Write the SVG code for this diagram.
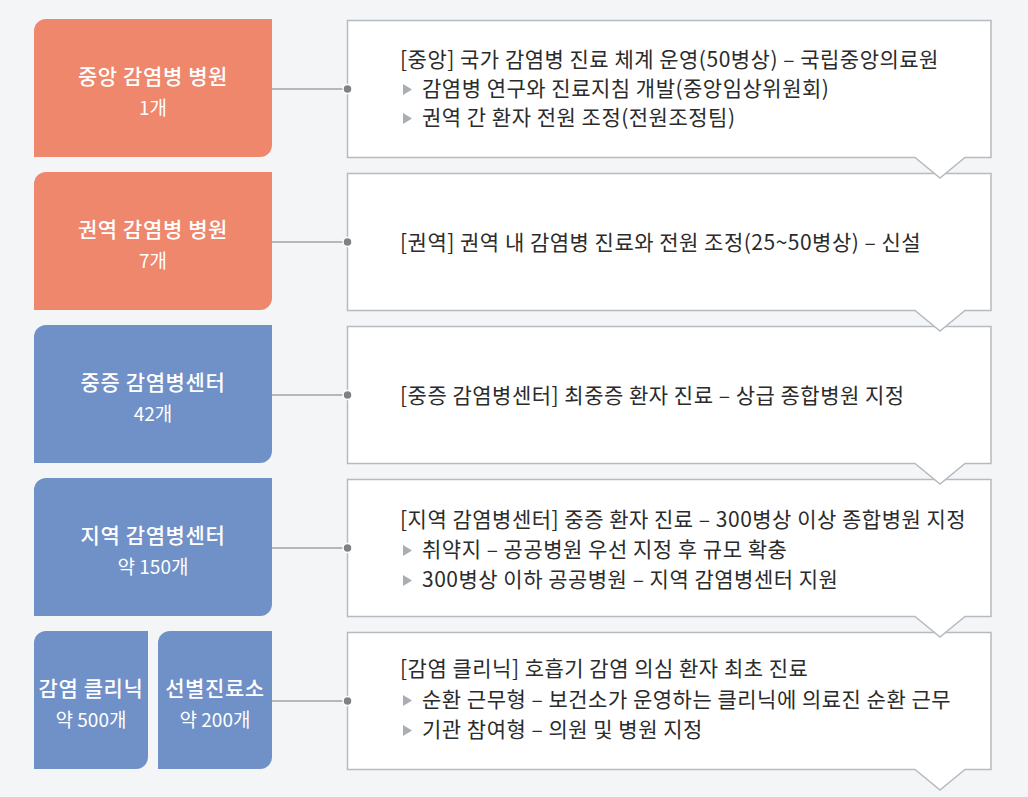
<svg xmlns="http://www.w3.org/2000/svg" width="1028" height="797" viewBox="0 0 1028 797">
<style>
.bg{fill:#F4F5F7}
.org{fill:#EE876B}
.blu{fill:#7090C8}
.call{fill:#FFFFFF;stroke:#B5BBC1;stroke-width:1.5}
.t1{font-family:"Noto Sans CJK KR","Noto Sans",sans-serif;font-size:21px;font-weight:500;letter-spacing:0.6px;fill:#FFFFFF;text-anchor:middle}
.t2{font-family:"Noto Sans CJK KR","Noto Sans",sans-serif;font-size:19px;font-weight:400;fill:#FFFFFF;text-anchor:middle}
.tx{font-family:"Noto Sans CJK KR","Noto Sans",sans-serif;font-size:21px;font-weight:400;letter-spacing:0.5px;fill:#2B2B2B}
.bul{fill:#A9AEB5}
.ln{stroke:#9EA3A8;stroke-width:1.5;fill:none}
.dot{fill:#7D8287;stroke:#FFFFFF;stroke-width:1.5}
</style>
<defs>
<path id="tri" d="M0,0 L9,5.5 L0,11 Z"/>
</defs>
<rect class="bg" x="0" y="0" width="1028" height="797"/>

<g id="callouts">
<g id="callout5">
<path class="call" d="M347.5,632.5 H991 V769.5 H965 L940,790 L915,769.5 H347.5 Z"/>
<text class="tx" x="400" y="676">[감염 클리닉] 호흡기 감염 의심 환자 최초 진료</text>
<use href="#tri" class="bul" x="403" y="695"/>
<text class="tx" x="422" y="707">순환 근무형 – 보건소가 운영하는 클리닉에 의료진 순환 근무</text>
<use href="#tri" class="bul" x="403" y="725"/>
<text class="tx" x="422" y="737">기관 참여형 – 의원 및 병원 지정</text>
</g>
<g id="callout4">
<path class="call" d="M347.5,479.5 H991 V616.5 H965 L940,637 L915,616.5 H347.5 Z"/>
<text class="tx" x="400" y="527">[지역 감염병센터] 중증 환자 진료 – 300병상 이상 종합병원 지정</text>
<use href="#tri" class="bul" x="403" y="545"/>
<text class="tx" x="422" y="557">취약지 – 공공병원 우선 지정 후 규모 확충</text>
<use href="#tri" class="bul" x="403" y="575"/>
<text class="tx" x="422" y="587">300병상 이하 공공병원 – 지역 감염병센터 지원</text>
</g>
<g id="callout3">
<path class="call" d="M347.5,326.5 H991 V463.5 H965 L940,484 L915,463.5 H347.5 Z"/>
<text class="tx" x="400" y="403">[중증 감염병센터] 최중증 환자 진료 – 상급 종합병원 지정</text>
</g>
<g id="callout2">
<path class="call" d="M347.5,173.5 H991 V310.5 H965 L940,331 L915,310.5 H347.5 Z"/>
<text class="tx" x="400" y="250">[권역] 권역 내 감염병 진료와 전원 조정(25~50병상) – 신설</text>
</g>
<g id="callout1">
<path class="call" d="M347.5,20.5 H991 V157.5 H965 L940,178 L915,157.5 H347.5 Z"/>
<text class="tx" x="400" y="67">[중앙] 국가 감염병 진료 체계 운영(50병상) – 국립중앙의료원</text>
<use href="#tri" class="bul" x="403" y="84"/>
<text class="tx" x="422" y="96">감염병 연구와 진료지침 개발(중앙임상위원회)</text>
<use href="#tri" class="bul" x="403" y="113"/>
<text class="tx" x="422" y="125">권역 간 환자 전원 조정(전원조정팀)</text>
</g>
</g>

<g id="connectors">
<line class="ln" x1="272" y1="89" x2="347" y2="89"/>
<line class="ln" x1="272" y1="242" x2="347" y2="242"/>
<line class="ln" x1="272" y1="395" x2="347" y2="395"/>
<line class="ln" x1="272" y1="548" x2="347" y2="548"/>
<line class="ln" x1="272" y1="701" x2="347" y2="701"/>
<circle class="dot" cx="347.5" cy="89" r="4.5"/>
<circle class="dot" cx="347.5" cy="242" r="4.5"/>
<circle class="dot" cx="347.5" cy="395" r="4.5"/>
<circle class="dot" cx="347.5" cy="548" r="4.5"/>
<circle class="dot" cx="347.5" cy="701" r="4.5"/>
</g>

<g id="node1">
<path class="org" d="M46,19 H272 V145 A12,12 0 0 1 260,157 H34 V31 A12,12 0 0 1 46,19 Z"/>
<text class="t1" x="153" y="84">중앙 감염병 병원</text>
<text class="t2" x="153" y="115">1개</text>
</g>
<g id="node2">
<path class="org" d="M46,172 H272 V298 A12,12 0 0 1 260,310 H34 V184 A12,12 0 0 1 46,172 Z"/>
<text class="t1" x="153" y="237">권역 감염병 병원</text>
<text class="t2" x="153" y="268">7개</text>
</g>
<g id="node3">
<path class="blu" d="M46,325 H272 V451 A12,12 0 0 1 260,463 H34 V337 A12,12 0 0 1 46,325 Z"/>
<text class="t1" x="153" y="390">중증 감염병센터</text>
<text class="t2" x="153" y="421">42개</text>
</g>
<g id="node4">
<path class="blu" d="M46,478 H272 V604 A12,12 0 0 1 260,616 H34 V490 A12,12 0 0 1 46,478 Z"/>
<text class="t1" x="153" y="543">지역 감염병센터</text>
<text class="t2" x="153" y="574">약 150개</text>
</g>
<g id="node5a">
<path class="blu" d="M46,631 H148 V757 A12,12 0 0 1 136,769 H34 V643 A12,12 0 0 1 46,631 Z"/>
<text class="t1" x="91" y="696">감염 클리닉</text>
<text class="t2" x="91" y="727">약 500개</text>
</g>
<g id="node5b">
<path class="blu" d="M170,631 H272 V757 A12,12 0 0 1 260,769 H158 V643 A12,12 0 0 1 170,631 Z"/>
<text class="t1" x="215" y="696">선별진료소</text>
<text class="t2" x="215" y="727">약 200개</text>
</g>
</svg>
